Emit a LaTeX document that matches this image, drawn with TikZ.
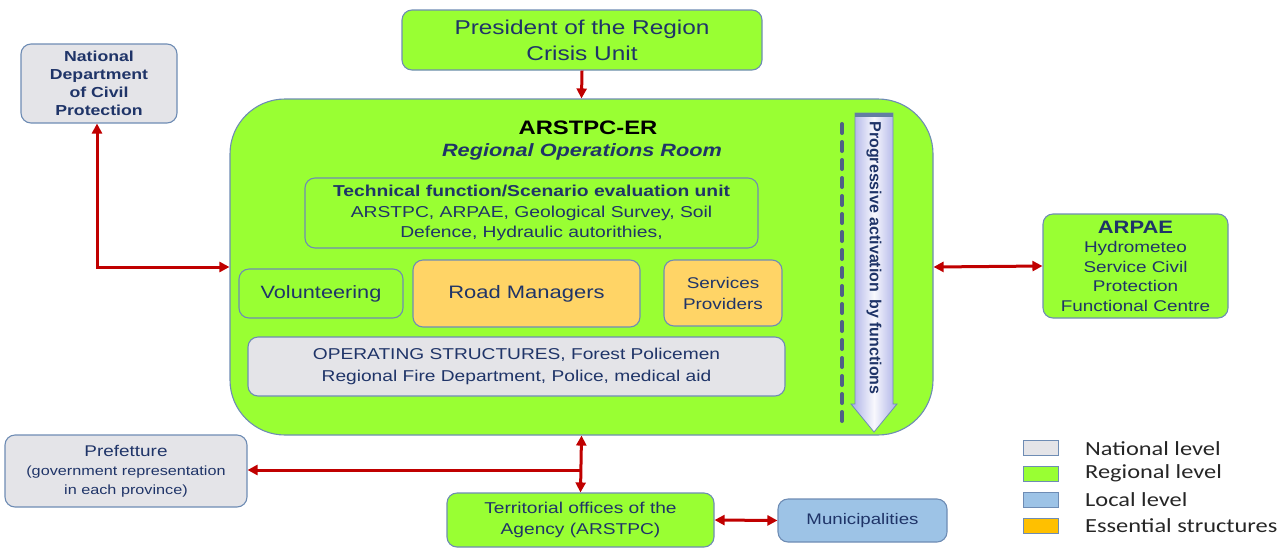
\documentclass[tikz,border=0pt]{standalone}
\usepackage{fontspec}
\setmainfont[FakeStretch=1.22]{Liberation Sans}
\newfontfamily\plainsans{Liberation Sans}
\newfontfamily\legendfont[FakeStretch=1.22]{Carlito}
\usetikzlibrary{arrows.meta,calc}
\definecolor{lime}{HTML}{99FF33}
\definecolor{edgeblue}{HTML}{6E8CB4}
\definecolor{natgray}{HTML}{E4E4E8}
\definecolor{roadorange}{HTML}{FFD466}
\definecolor{legorange}{HTML}{FFC000}
\definecolor{localblue}{HTML}{9DC3E6}
\definecolor{linkred}{HTML}{C00000}
\definecolor{navy}{HTML}{1F3468}
\definecolor{dashslate}{HTML}{4F5F86}
\definecolor{arrowlav}{HTML}{A9AEE6}
\begin{document}
\begin{tikzpicture}[x=1pt,y=-1pt,
  box/.style={draw=edgeblue,line width=1.1pt,rounded corners=10pt,align=center,
    text=navy,inner sep=0pt,font=\fontsize{16}{19}\selectfont},
  green/.style={box,fill=lime},
  gray/.style={box,fill=natgray},
  orange/.style={box,fill=roadorange},
  local/.style={box,fill=localblue},
  link/.style={draw=linkred,line width=3pt,
    {Triangle[length=10pt,width=10pt]}-{Triangle[length=10pt,width=10pt]}},
  linkone/.style={draw=linkred,line width=3pt,-{Triangle[length=10pt,width=10pt]}},
  legsq/.style={draw=edgeblue,line width=1pt,minimum width=35pt,minimum height=15pt,inner sep=0pt},
  legtxt/.style={anchor=west,inner sep=0pt,text=black!85,font=\legendfont\fontsize{20}{22}\selectfont}]
\useasboundingbox (0,0) rectangle (1287,547);

% regional operations room
\node[green,rounded corners=55pt,minimum width=703pt,minimum height=336pt] (main) at (581.5,267) {};
\node[inner sep=0pt,font=\bfseries\fontsize{19.5}{22}\selectfont] (title) at (588,128) {ARSTPC-ER};
\node[inner sep=0pt,text=navy,font=\bfseries\itshape\fontsize{17.8}{22}\selectfont] (subtitle) at (582,152)
  {Regional Operations Room};

% upper level
\node[green,minimum width=360pt,minimum height=60pt,font=\fontsize{20}{26}\selectfont] (pres) at (582,40)
  {President of the Region\\Crisis Unit};
\node[gray,minimum width=156pt,minimum height=79pt,font=\bfseries\fontsize{14.5}{18}\selectfont] (natl) at (99,83.5)
  {National\\Department\\of Civil\\Protection};
\node[green,minimum width=185pt,minimum height=104pt,font=\fontsize{15.5}{19.5}\selectfont] (arpae) at (1135.5,266)
  {{\bfseries\fontsize{18}{21}\selectfont ARPAE}\\Hydrometeo\\Service Civil\\Protection\\Functional Centre};

% inner structures
\node[green,minimum width=453pt,minimum height=70pt,font=\fontsize{15.8}{20.5}\selectfont] (tech) at (531.5,213)
  {\textbf{Technical function/Scenario evaluation unit}\\ARSTPC, ARPAE, Geological Survey, Soil\\Defence, Hydraulic autorithies,};
\node[green,minimum width=164pt,minimum height=49pt,font=\fontsize{17.8}{20}\selectfont] (vol) at (321,293.5) {Volunteering};
\node[orange,minimum width=227pt,minimum height=67pt,font=\fontsize{18}{20}\selectfont] (road) at (526.5,293.5) {Road Managers};
\node[orange,minimum width=118pt,minimum height=66pt,font=\fontsize{15.5}{21}\selectfont] (serv) at (723,293) {Services\\Providers};
\node[gray,minimum width=537pt,minimum height=59pt,font=\fontsize{15.7}{22}\selectfont] (ops) at (516.5,366.5)
  {OPERATING STRUCTURES, Forest Policemen\\Regional Fire Department, Police, medical aid};

% progressive activation arrow
\draw[dashslate,line width=4pt,line cap=round,dash pattern=on 9pt off 9pt] (842,124) -- (842,428);
\path[draw=edgeblue,line width=0.8pt,left color=arrowlav,right color=arrowlav,middle color=white!92!arrowlav]
  (855,113) -- (893,113) -- (893,404) -- (897,404) -- (874,432) -- (851,404) -- (855,404) -- cycle;
\fill[edgeblue!90!black] (855,113) rectangle (893,117);
\node[rotate=-90,text=navy,inner sep=0pt,font=\plainsans\bfseries\fontsize{16}{18}\selectfont] (prog) at (874,258)
  {Progressive activation\, by functions};

% lower level
\node[gray,minimum width=242pt,minimum height=72pt,font=\fontsize{13.3}{19}\selectfont] (pref) at (126,471)
  {{\fontsize{15.5}{20}\selectfont Prefetture}\\(government representation\\in each province)};
\node[green,minimum width=267pt,minimum height=54pt,font=\fontsize{15.7}{21}\selectfont] (terr) at (580.5,520)
  {Territorial offices of the\\Agency (ARSTPC)};
\node[local,minimum width=169pt,minimum height=43pt,font=\fontsize{15.3}{18}\selectfont] (muni) at (862.5,520.5) {Municipalities};

% connectors
\coordinate (junc) at (581,470);
\draw[linkone] (pres.south) -- (main.north);
\draw[link] (natl.south -| 97,0) |- (main.west);
\draw[link] (main.east) -- (arpae.west);
\draw[link] (main.south) -- (terr.north);
\draw[linkone] (junc) -- (pref.east |- junc);
\draw[link] (terr.east) -- (muni.west);

% legend
\node[legsq,fill=natgray] (lg1) at (1040.5,448) {};
\node[legsq,fill=lime] (lg2) at (1040.5,473.5) {};
\node[legsq,fill=localblue] (lg3) at (1040.5,500) {};
\node[legsq,fill=legorange] (lg4) at (1040.5,525.5) {};
\node[legtxt] at (1085,449) {National level};
\node[legtxt] at (1085,473.5) {Regional level};
\node[legtxt] at (1085,500) {Local level};
\node[legtxt] at (1085,526) {Essential structures};
\end{tikzpicture}
\end{document}
